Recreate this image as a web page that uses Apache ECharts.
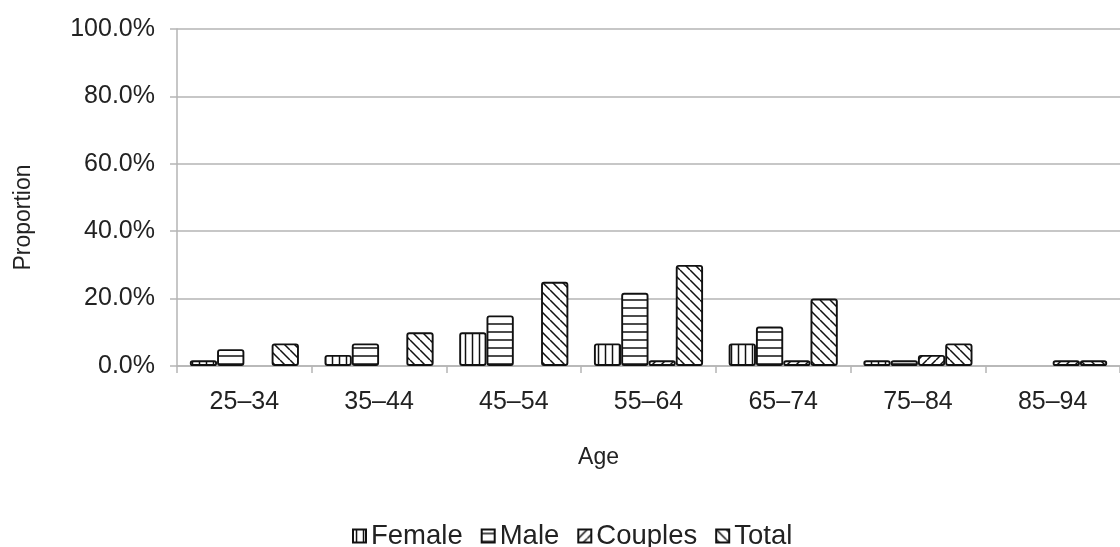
<!DOCTYPE html>
<html>
<head>
<meta charset="utf-8">
<script src="https://cdn.jsdelivr.net/npm/echarts@6/dist/echarts.min.js"></script>
<style>
html,body{margin:0;padding:0;background:#fff;}
#chart{width:1120px;height:547px;}
</style>
</head>
<body>
<div id="chart"></div>
<script>
// ---- data ----
const categories = ['25–34', '35–44', '45–54', '55–64', '65–74', '75–84', '85–94'];
const female  = [1.7, 3.3, 10, 6.7, 6.7, 1.7, 0];
const male    = [5, 6.7, 15, 21.7, 11.7, 1.7, 0];
const couples = [0, 0, 0, 1.7, 1.7, 3.3, 1.7];
const total   = [6.7, 10, 25, 30, 20, 6.7, 1.7];
const yTicks  = [0, 20, 40, 60, 80, 100];

const FONT = "'Liberation Sans', Arial, Helvetica, sans-serif";
const TXT = '#222';
const GRIDC = '#b5b5b5';

function makePattern(kind) {
  const sizes = {vert: 7, horiz: 8, slash: 9, back: 10};
  const s = sizes[kind];
  const c = document.createElement('canvas');
  c.width = s; c.height = s;
  const g = c.getContext('2d');
  g.fillStyle = '#fff';
  g.fillRect(0, 0, s, s);
  g.strokeStyle = '#111';
  g.lineWidth = 1.5;
  g.beginPath();
  if (kind === 'vert') {
    g.moveTo(s / 2, 0); g.lineTo(s / 2, s);
  } else if (kind === 'horiz') {
    g.moveTo(0, s / 2); g.lineTo(s, s / 2);
  } else if (kind === 'back') {
    for (let k = -1; k <= 1; k++) { g.moveTo(0, k * s); g.lineTo(s, s + k * s); }
  } else {
    for (let k = 0; k <= 2; k++) { g.moveTo(0, k * s); g.lineTo(s, k * s - s); }
  }
  g.stroke();
  return {image: c, repeat: 'repeat'};
}

function barSeries(name, data, kind) {
  return {
    name: name,
    type: 'bar',
    // zero-height bars are not outlined in the reference
    data: data.map(v => v === 0 ? {value: v, itemStyle: {borderWidth: 0}} : v),
    barGap: '0%',
    barCategoryGap: '19%',
    itemStyle: {
      color: makePattern(kind),
      borderColor: '#111',
      borderWidth: 1.9,
      borderRadius: 2
    },
    emphasis: {disabled: true}
  };
}

const chart = echarts.init(document.getElementById('chart'), null, {renderer: 'canvas'});
chart.setOption({
  animation: false,
  backgroundColor: '#fff',
  textStyle: {fontFamily: FONT, color: TXT},
  grid: {left: 177, top: 29, width: 954, height: 337, containLabel: false},
  legend: {
    left: 347,
    top: 517,
    itemWidth: 13,
    itemHeight: 13,
    itemGap: 18,
    icon: 'rect',
    textStyle: {fontFamily: FONT, fontSize: 27.5, color: TXT},
    data: ['Female', 'Male', 'Couples', 'Total']
  },
  xAxis: {
    type: 'category',
    data: categories,
    name: 'Age',
    nameLocation: 'middle',
    nameGap: 80,
    nameTextStyle: {fontFamily: FONT, fontSize: 23, color: TXT, padding: [0, 100, 0, 0]},
    axisLine: {lineStyle: {color: GRIDC, width: 1.5}},
    axisTick: {show: true, length: 7, lineStyle: {color: GRIDC, width: 1.5}},
    axisLabel: {fontFamily: FONT, fontSize: 25, color: TXT, margin: 24}
  },
  yAxis: {
    type: 'value',
    min: yTicks[0],
    max: yTicks[yTicks.length - 1],
    interval: 20,
    name: 'Proportion',
    nameLocation: 'middle',
    nameRotate: 90,
    nameGap: 142,
    nameTextStyle: {fontFamily: FONT, fontSize: 23, color: TXT, padding: [0, 40, 0, 0]},
    axisLine: {show: true, lineStyle: {color: GRIDC, width: 1.5}},
    axisTick: {show: true, length: 7, lineStyle: {color: GRIDC, width: 1.5}},
    axisLabel: {
      fontFamily: FONT, fontSize: 25, color: TXT, margin: 22,
      formatter: v => v.toFixed(1) + '%'
    },
    splitLine: {show: true, lineStyle: {color: GRIDC, width: 1.5}}
  },
  series: [
    barSeries('Female', female, 'vert'),
    barSeries('Male', male, 'horiz'),
    barSeries('Couples', couples, 'slash'),
    barSeries('Total', total, 'back')
  ]
});
</script>
</body>
</html>
